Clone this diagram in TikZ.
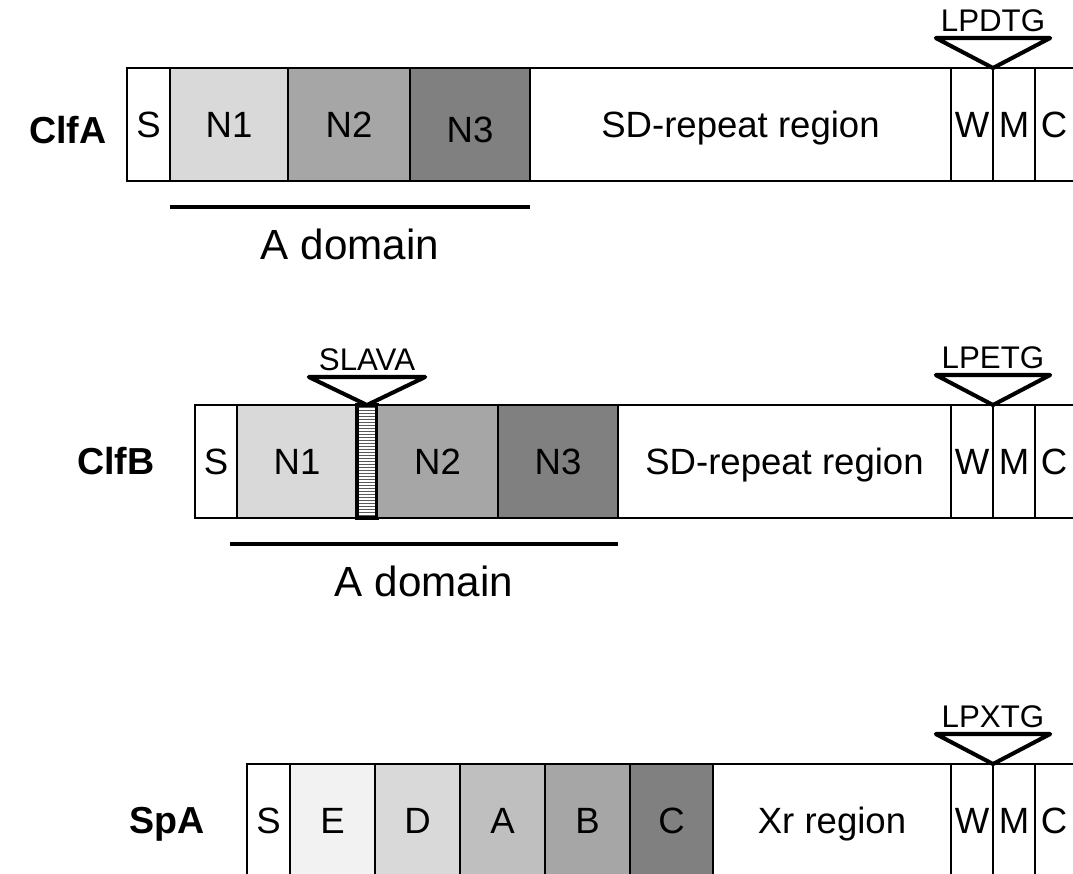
\documentclass[tikz,border=0pt]{standalone}
\usepackage{fontspec}
\setmainfont{Liberation Sans}
\usetikzlibrary{positioning,patterns.meta}

\begin{document}
\begin{tikzpicture}[
x=1mm, y=-1mm,
seg/.style={draw, line width=0.8pt, minimum height=11.3mm, inner sep=0, outer sep=0, text height=2.5mm, text depth=0mm, font=\fontsize{10.4}{12}\selectfont},
tailseg/.style={seg, draw=none},
linker/.style={seg, line width=1.1pt, pattern={Lines[angle=0, distance=0.33mm, line width=0.07mm]}},
protname/.style={inner sep=0, text height=2.6mm, text depth=0mm, font=\bfseries\fontsize{10.7}{12}\selectfont},
motif/.style={minimum width=11.3mm, inner xsep=0, inner ysep=0.6mm, font=\fontsize{8.9}{10}\selectfont},
tri/.style={draw, fill=white, line width=1.15pt, line join=round, line cap=round},
edge/.style={line width=0.8pt},
dom/.style={line width=0.95pt},
domtext/.style={inner sep=0, text height=3mm, font=\fontsize{12}{14}\selectfont}
]
\useasboundingbox (0,0) rectangle (107.3,87.4);
\clip (0,0) rectangle (107.3,87.4);

% ClfA
\node[seg, minimum width=4.3mm, anchor=north west] (aS) at (12.7,6.8) {S};
\node[seg, fill=black!15, minimum width=11.8mm, right=0mm of aS] (aN1) {N1};
\node[seg, fill=black!35, minimum width=12.2mm, right=0mm of aN1] (aN2) {N2};
\node[seg, fill=black!50, minimum width=12mm, right=0mm of aN2, text height=3.5mm] (aN3) {N3};
\node[seg, minimum width=42.1mm, right=0mm of aN3] (aSD) {SD-repeat region};
\node[seg, minimum width=4.2mm, right=0mm of aSD] (aW) {W};
\node[seg, minimum width=4.2mm, right=0mm of aW] (aM) {M};
\node[tailseg, minimum width=3.8mm, right=0mm of aM] (aC) {C};
\draw[edge] (aC.north west) -- ([xshift=2mm]aC.north east) (aC.south west) -- ([xshift=2mm]aC.south east);
\node[protname, left=2mm of aS, yshift=-0.6mm] (clfa) {ClfA};
\node[motif, above=3mm of aW.north east] (aLP) {LPDTG};
\draw[tri] (aLP.south west) -- (aW.north east) -- (aLP.south east) -- cycle;
\draw[dom] ([yshift=-2.6mm]aN1.south west) -- ([yshift=-2.6mm]aN3.south east)
  node[domtext, midway, below=2.1mm] (adom) {A domain};

% ClfB
\node[seg, minimum width=4.2mm, anchor=north west] (bS) at (19.5,40.5) {S};
\node[seg, fill=black!15, minimum width=12mm, right=0mm of bS] (bN1) {N1};
\node[linker, minimum width=2mm, right=0mm of bN1] (bLk) {};
\node[seg, fill=black!35, minimum width=12.1mm, right=0mm of bLk] (bN2) {N2};
\node[seg, fill=black!50, minimum width=12mm, right=0mm of bN2] (bN3) {N3};
\node[seg, minimum width=33.3mm, right=0mm of bN3] (bSD) {SD-repeat region};
\node[seg, minimum width=4.2mm, right=0mm of bSD] (bW) {W};
\node[seg, minimum width=4.2mm, right=0mm of bW] (bM) {M};
\node[tailseg, minimum width=3.8mm, right=0mm of bM] (bC) {C};
\draw[edge] (bC.north west) -- ([xshift=2mm]bC.north east) (bC.south west) -- ([xshift=2mm]bC.south east);
\node[protname, left=4mm of bS] (clfb) {ClfB};
\node[motif, minimum width=11.5mm, above=2.8mm of bLk.north] (bSL) {SLAVA};
\draw[tri] (bSL.south west) -- (bLk.north) -- (bSL.south east) -- cycle;
\node[motif, above=3mm of bW.north east] (bLP) {LPETG};
\draw[tri] (bLP.south west) -- (bW.north east) -- (bLP.south east) -- cycle;
\draw[dom] ([xshift=-0.7mm, yshift=-2.6mm]bN1.south west) -- ([yshift=-2.6mm]bN3.south east)
  node[domtext, midway, below=2.1mm] (bdom) {A domain};

% SpA
\node[seg, minimum width=4.3mm, anchor=north west] (cS) at (24.7,76.4) {S};
\node[seg, fill=black!5, minimum width=8.5mm, right=0mm of cS] (cE) {E};
\node[seg, fill=black!15, minimum width=8.5mm, right=0mm of cE] (cD) {D};
\node[seg, fill=black!25, minimum width=8.5mm, right=0mm of cD] (cA) {A};
\node[seg, fill=black!35, minimum width=8.5mm, right=0mm of cA] (cB) {B};
\node[seg, fill=black!50, minimum width=8.3mm, right=0mm of cB] (cCd) {C};
\node[seg, minimum width=23.8mm, right=0mm of cCd] (cXr) {Xr region};
\node[seg, minimum width=4.2mm, right=0mm of cXr] (cW) {W};
\node[seg, minimum width=4.2mm, right=0mm of cW] (cM) {M};
\node[tailseg, minimum width=3.8mm, right=0mm of cM] (cC) {C};
\draw[edge] (cC.north west) -- ([xshift=2mm]cC.north east) (cC.south west) -- ([xshift=2mm]cC.south east);
\node[protname, left=4.2mm of cS] (spa) {SpA};
\node[motif, above=3mm of cW.north east] (cLP) {LPXTG};
\draw[tri] (cLP.south west) -- (cW.north east) -- (cLP.south east) -- cycle;
\end{tikzpicture}
\end{document}
